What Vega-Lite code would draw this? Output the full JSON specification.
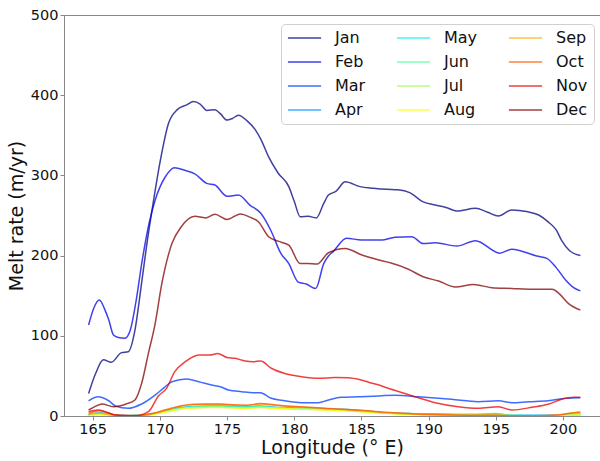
{
  "$schema": "https://vega.github.io/schema/vega-lite/v6.json",
  "width": 536,
  "height": 401,
  "autosize": {"type": "none"},
  "padding": {"left": 64, "top": 15, "right": 0, "bottom": 45},
  "background": "white",
  "config": {
    "font": "DejaVu Sans",
    "view": {"stroke": "#888888", "strokeWidth": 1},
    "axis": {"grid": false, "labelFont": "DejaVu Sans", "titleFont": "DejaVu Sans", "labelColor": "#111", "titleColor": "#111", "titleFontWeight": "normal", "labelFontSize": 14.5, "titleFontSize": 19, "domainColor": "#888888", "tickColor": "#888888", "tickSize": 4, "labelPadding": 2}
  },
  "datasets": {
    "melt": [
      {"m":"Jan","x":164.7,"y":28},{"m":"Jan","x":165.2,"y":52},{"m":"Jan","x":165.8,"y":70},{"m":"Jan","x":166.4,"y":67},{"m":"Jan","x":167.15,"y":79},{"m":"Jan","x":167.65,"y":80},{"m":"Jan","x":168.15,"y":107},{"m":"Jan","x":168.6,"y":160},{"m":"Jan","x":169.0,"y":210},{"m":"Jan","x":169.5,"y":265},{"m":"Jan","x":170.0,"y":315},{"m":"Jan","x":170.65,"y":365},{"m":"Jan","x":171.3,"y":382},{"m":"Jan","x":172.0,"y":388},{"m":"Jan","x":172.5,"y":392},{"m":"Jan","x":173.0,"y":389},{"m":"Jan","x":173.5,"y":381},{"m":"Jan","x":174.1,"y":382},{"m":"Jan","x":174.5,"y":377},{"m":"Jan","x":175.0,"y":369},{"m":"Jan","x":175.4,"y":371},{"m":"Jan","x":175.85,"y":375},{"m":"Jan","x":176.5,"y":368},{"m":"Jan","x":177.1,"y":357},{"m":"Jan","x":177.55,"y":344},{"m":"Jan","x":178.1,"y":323},{"m":"Jan","x":178.8,"y":303},{"m":"Jan","x":179.6,"y":286},{"m":"Jan","x":180.0,"y":268},{"m":"Jan","x":180.45,"y":248.5},{"m":"Jan","x":181.05,"y":249},{"m":"Jan","x":181.65,"y":247},{"m":"Jan","x":182.2,"y":265},{"m":"Jan","x":182.55,"y":275.5},{"m":"Jan","x":183.1,"y":280},{"m":"Jan","x":183.8,"y":292},{"m":"Jan","x":184.9,"y":286},{"m":"Jan","x":185.9,"y":284},{"m":"Jan","x":186.9,"y":282.6},{"m":"Jan","x":187.7,"y":282},{"m":"Jan","x":188.6,"y":278.5},{"m":"Jan","x":189.6,"y":267},{"m":"Jan","x":190.5,"y":263},{"m":"Jan","x":191.3,"y":260},{"m":"Jan","x":192.1,"y":255.6},{"m":"Jan","x":193.5,"y":259},{"m":"Jan","x":194.4,"y":254},{"m":"Jan","x":195.2,"y":249.4},{"m":"Jan","x":196.2,"y":257},{"m":"Jan","x":197.3,"y":255},{"m":"Jan","x":198.2,"y":250.6},{"m":"Jan","x":198.9,"y":242},{"m":"Jan","x":199.5,"y":232},{"m":"Jan","x":199.9,"y":219},{"m":"Jan","x":200.5,"y":206},{"m":"Jan","x":201.3,"y":200},

      {"m":"Feb","x":164.7,"y":113.5},{"m":"Feb","x":165.1,"y":135},{"m":"Feb","x":165.5,"y":144.6},{"m":"Feb","x":165.9,"y":133},{"m":"Feb","x":166.2,"y":120},{"m":"Feb","x":166.55,"y":101},{"m":"Feb","x":166.9,"y":98},{"m":"Feb","x":167.4,"y":97},{"m":"Feb","x":167.8,"y":107},{"m":"Feb","x":168.2,"y":140},{"m":"Feb","x":168.7,"y":195},{"m":"Feb","x":169.2,"y":240},{"m":"Feb","x":169.65,"y":269},{"m":"Feb","x":170.4,"y":298},{"m":"Feb","x":171.1,"y":309.6},{"m":"Feb","x":171.9,"y":306},{"m":"Feb","x":172.6,"y":302},{"m":"Feb","x":173.5,"y":290},{"m":"Feb","x":174.1,"y":288},{"m":"Feb","x":175.0,"y":274},{"m":"Feb","x":175.85,"y":275.5},{"m":"Feb","x":176.7,"y":263},{"m":"Feb","x":177.5,"y":253},{"m":"Feb","x":178.3,"y":230},{"m":"Feb","x":179.0,"y":203},{"m":"Feb","x":179.6,"y":190},{"m":"Feb","x":180.3,"y":167},{"m":"Feb","x":180.9,"y":164.6},{"m":"Feb","x":181.6,"y":159},{"m":"Feb","x":182.2,"y":190},{"m":"Feb","x":182.55,"y":199.5},{"m":"Feb","x":182.9,"y":205},{"m":"Feb","x":183.9,"y":221.6},{"m":"Feb","x":185.0,"y":219.5},{"m":"Feb","x":186.6,"y":219.5},{"m":"Feb","x":187.5,"y":223},{"m":"Feb","x":188.75,"y":223.6},{"m":"Feb","x":189.6,"y":215},{"m":"Feb","x":190.5,"y":216},{"m":"Feb","x":192.1,"y":212},{"m":"Feb","x":193.5,"y":218.6},{"m":"Feb","x":195.3,"y":203},{"m":"Feb","x":196.2,"y":208},{"m":"Feb","x":198.05,"y":199.5},{"m":"Feb","x":198.8,"y":196.6},{"m":"Feb","x":199.5,"y":185},{"m":"Feb","x":200.2,"y":169.6},{"m":"Feb","x":200.8,"y":160},{"m":"Feb","x":201.3,"y":156},

      {"m":"Mar","x":164.7,"y":19},{"m":"Mar","x":165.4,"y":24},{"m":"Mar","x":166.2,"y":19},{"m":"Mar","x":166.7,"y":12.5},{"m":"Mar","x":167.65,"y":9.6},{"m":"Mar","x":168.65,"y":15},{"m":"Mar","x":169.65,"y":26},{"m":"Mar","x":170.3,"y":35},{"m":"Mar","x":170.9,"y":42.8},{"m":"Mar","x":172.0,"y":46},{"m":"Mar","x":172.9,"y":42.8},{"m":"Mar","x":173.85,"y":38.6},{"m":"Mar","x":174.5,"y":36.5},{"m":"Mar","x":175.1,"y":32.4},{"m":"Mar","x":176.1,"y":30.3},{"m":"Mar","x":176.95,"y":29},{"m":"Mar","x":177.5,"y":29},{"m":"Mar","x":178.2,"y":22.8},{"m":"Mar","x":179.3,"y":19},{"m":"Mar","x":180.55,"y":16.6},{"m":"Mar","x":181.8,"y":16.6},{"m":"Mar","x":182.55,"y":20},{"m":"Mar","x":183.5,"y":23.3},{"m":"Mar","x":184.8,"y":24},{"m":"Mar","x":186.3,"y":25},{"m":"Mar","x":187.5,"y":26},{"m":"Mar","x":189.25,"y":24},{"m":"Mar","x":191.7,"y":20.8},{"m":"Mar","x":193.7,"y":17.8},{"m":"Mar","x":195.2,"y":19},{"m":"Mar","x":196.2,"y":16.6},{"m":"Mar","x":197.45,"y":17.8},{"m":"Mar","x":198.9,"y":19},{"m":"Mar","x":200.2,"y":22},{"m":"Mar","x":201.3,"y":22.8},

      {"m":"Apr","x":164.7,"y":2},{"m":"Apr","x":165.5,"y":4},{"m":"Apr","x":166.5,"y":1.5},{"m":"Apr","x":167.5,"y":0.5},{"m":"Apr","x":168.5,"y":1},{"m":"Apr","x":169.5,"y":3},{"m":"Apr","x":170.5,"y":7},{"m":"Apr","x":171.5,"y":10.5},{"m":"Apr","x":172.5,"y":12},{"m":"Apr","x":173.5,"y":12.5},{"m":"Apr","x":174.5,"y":12.5},{"m":"Apr","x":175.5,"y":12},{"m":"Apr","x":176.5,"y":11.5},{"m":"Apr","x":177.5,"y":12.5},{"m":"Apr","x":178.5,"y":11},{"m":"Apr","x":179.5,"y":10.5},{"m":"Apr","x":180.5,"y":10},{"m":"Apr","x":181.5,"y":9.5},{"m":"Apr","x":182.5,"y":9},{"m":"Apr","x":183.5,"y":8.5},{"m":"Apr","x":184.5,"y":7.5},{"m":"Apr","x":185.5,"y":6},{"m":"Apr","x":186.5,"y":4.5},{"m":"Apr","x":187.5,"y":3.5},{"m":"Apr","x":188.5,"y":3},{"m":"Apr","x":189.5,"y":2.5},{"m":"Apr","x":190.5,"y":2.5},{"m":"Apr","x":192.0,"y":2},{"m":"Apr","x":193.5,"y":1.8},{"m":"Apr","x":195.0,"y":2.5},{"m":"Apr","x":196.0,"y":1},{"m":"Apr","x":197.5,"y":0.8},{"m":"Apr","x":199.0,"y":0.8},{"m":"Apr","x":200.2,"y":1.5},{"m":"Apr","x":201.3,"y":2.5},

      {"m":"May","x":164.7,"y":1.5},{"m":"May","x":165.5,"y":3},{"m":"May","x":166.5,"y":1},{"m":"May","x":167.5,"y":0.3},{"m":"May","x":168.5,"y":0.8},{"m":"May","x":169.5,"y":2.5},{"m":"May","x":170.5,"y":6.5},{"m":"May","x":171.5,"y":10},{"m":"May","x":172.5,"y":11.5},{"m":"May","x":173.5,"y":12},{"m":"May","x":174.5,"y":12.5},{"m":"May","x":175.5,"y":12},{"m":"May","x":176.5,"y":11.5},{"m":"May","x":177.5,"y":12},{"m":"May","x":178.5,"y":10.5},{"m":"May","x":179.5,"y":10},{"m":"May","x":180.5,"y":9.5},{"m":"May","x":181.5,"y":9},{"m":"May","x":182.5,"y":8.5},{"m":"May","x":183.5,"y":8},{"m":"May","x":184.5,"y":7},{"m":"May","x":185.5,"y":5.5},{"m":"May","x":186.5,"y":4.5},{"m":"May","x":187.5,"y":3.5},{"m":"May","x":188.5,"y":3},{"m":"May","x":189.5,"y":2.5},{"m":"May","x":190.5,"y":2.2},{"m":"May","x":192.0,"y":2},{"m":"May","x":193.5,"y":2},{"m":"May","x":195.0,"y":3},{"m":"May","x":196.0,"y":1},{"m":"May","x":197.5,"y":0.5},{"m":"May","x":199.0,"y":0.5},{"m":"May","x":200.2,"y":1},{"m":"May","x":201.3,"y":2},

      {"m":"Jun","x":164.7,"y":1},{"m":"Jun","x":165.5,"y":2.5},{"m":"Jun","x":166.5,"y":0.8},{"m":"Jun","x":167.5,"y":0.3},{"m":"Jun","x":168.5,"y":0.5},{"m":"Jun","x":169.5,"y":2.5},{"m":"Jun","x":170.5,"y":6},{"m":"Jun","x":171.5,"y":9.5},{"m":"Jun","x":172.5,"y":11},{"m":"Jun","x":173.5,"y":11.5},{"m":"Jun","x":174.5,"y":11.5},{"m":"Jun","x":175.5,"y":11},{"m":"Jun","x":176.5,"y":10.5},{"m":"Jun","x":177.5,"y":11.5},{"m":"Jun","x":178.5,"y":10.5},{"m":"Jun","x":179.5,"y":9.5},{"m":"Jun","x":180.5,"y":9},{"m":"Jun","x":181.5,"y":8.5},{"m":"Jun","x":182.5,"y":8},{"m":"Jun","x":183.5,"y":7.5},{"m":"Jun","x":184.5,"y":6.5},{"m":"Jun","x":185.5,"y":5},{"m":"Jun","x":186.5,"y":4},{"m":"Jun","x":187.5,"y":3},{"m":"Jun","x":188.5,"y":2.5},{"m":"Jun","x":189.5,"y":2},{"m":"Jun","x":190.5,"y":1.8},{"m":"Jun","x":192.0,"y":1.5},{"m":"Jun","x":193.5,"y":1.3},{"m":"Jun","x":195.0,"y":2},{"m":"Jun","x":196.0,"y":0.8},{"m":"Jun","x":197.5,"y":0.4},{"m":"Jun","x":199.0,"y":0.4},{"m":"Jun","x":200.2,"y":0.8},{"m":"Jun","x":201.3,"y":1.5},

      {"m":"Jul","x":164.7,"y":0.8},{"m":"Jul","x":165.5,"y":2},{"m":"Jul","x":166.5,"y":0.6},{"m":"Jul","x":167.5,"y":0.2},{"m":"Jul","x":168.5,"y":0.4},{"m":"Jul","x":169.5,"y":2.2},{"m":"Jul","x":170.5,"y":5.5},{"m":"Jul","x":171.5,"y":9},{"m":"Jul","x":172.5,"y":10.5},{"m":"Jul","x":173.5,"y":11},{"m":"Jul","x":174.5,"y":11},{"m":"Jul","x":175.5,"y":10.5},{"m":"Jul","x":176.5,"y":10},{"m":"Jul","x":177.5,"y":11},{"m":"Jul","x":178.5,"y":10},{"m":"Jul","x":179.5,"y":9},{"m":"Jul","x":180.5,"y":8.5},{"m":"Jul","x":181.5,"y":8},{"m":"Jul","x":182.5,"y":7.5},{"m":"Jul","x":183.5,"y":7},{"m":"Jul","x":184.5,"y":6},{"m":"Jul","x":185.5,"y":4.8},{"m":"Jul","x":186.5,"y":3.8},{"m":"Jul","x":187.5,"y":2.8},{"m":"Jul","x":188.5,"y":2.3},{"m":"Jul","x":189.5,"y":1.8},{"m":"Jul","x":190.5,"y":1.5},{"m":"Jul","x":192.0,"y":1.2},{"m":"Jul","x":193.5,"y":1},{"m":"Jul","x":195.0,"y":1.2},{"m":"Jul","x":196.0,"y":0.5},{"m":"Jul","x":197.5,"y":0.3},{"m":"Jul","x":199.0,"y":0.3},{"m":"Jul","x":200.2,"y":0.6},{"m":"Jul","x":201.3,"y":1.2},

      {"m":"Aug","x":164.7,"y":0.5},{"m":"Aug","x":165.5,"y":1.5},{"m":"Aug","x":166.5,"y":0.5},{"m":"Aug","x":167.5,"y":0.2},{"m":"Aug","x":168.5,"y":0.3},{"m":"Aug","x":169.5,"y":2},{"m":"Aug","x":170.5,"y":5},{"m":"Aug","x":171.5,"y":8.5},{"m":"Aug","x":172.5,"y":10},{"m":"Aug","x":173.5,"y":10.5},{"m":"Aug","x":174.5,"y":10.5},{"m":"Aug","x":175.5,"y":10},{"m":"Aug","x":176.5,"y":9.5},{"m":"Aug","x":177.5,"y":10.5},{"m":"Aug","x":178.5,"y":9.8},{"m":"Aug","x":179.5,"y":9},{"m":"Aug","x":180.5,"y":8.5},{"m":"Aug","x":181.5,"y":8},{"m":"Aug","x":182.5,"y":7.5},{"m":"Aug","x":183.5,"y":7},{"m":"Aug","x":184.5,"y":6},{"m":"Aug","x":185.5,"y":4.8},{"m":"Aug","x":186.5,"y":3.8},{"m":"Aug","x":187.5,"y":2.8},{"m":"Aug","x":188.5,"y":2.2},{"m":"Aug","x":189.5,"y":1.7},{"m":"Aug","x":190.5,"y":1.4},{"m":"Aug","x":192.0,"y":1},{"m":"Aug","x":193.5,"y":0.8},{"m":"Aug","x":195.0,"y":0.8},{"m":"Aug","x":196.0,"y":0.4},{"m":"Aug","x":197.5,"y":0.2},{"m":"Aug","x":199.0,"y":0.3},{"m":"Aug","x":200.2,"y":0.8},{"m":"Aug","x":201.3,"y":1.5},

      {"m":"Sep","x":164.7,"y":2},{"m":"Sep","x":165.5,"y":3.3},{"m":"Sep","x":166.5,"y":1},{"m":"Sep","x":167.5,"y":0.3},{"m":"Sep","x":168.5,"y":0.5},{"m":"Sep","x":169.5,"y":3},{"m":"Sep","x":170.5,"y":7.5},{"m":"Sep","x":171.5,"y":12},{"m":"Sep","x":172.5,"y":14},{"m":"Sep","x":173.5,"y":14.5},{"m":"Sep","x":174.5,"y":14.5},{"m":"Sep","x":175.5,"y":13.5},{"m":"Sep","x":176.5,"y":13},{"m":"Sep","x":177.5,"y":15},{"m":"Sep","x":178.5,"y":13.5},{"m":"Sep","x":179.5,"y":12},{"m":"Sep","x":180.5,"y":11},{"m":"Sep","x":181.5,"y":10},{"m":"Sep","x":182.5,"y":9},{"m":"Sep","x":183.5,"y":8},{"m":"Sep","x":184.5,"y":7},{"m":"Sep","x":185.5,"y":6},{"m":"Sep","x":186.5,"y":4.5},{"m":"Sep","x":187.5,"y":3.5},{"m":"Sep","x":188.5,"y":2.5},{"m":"Sep","x":189.5,"y":2},{"m":"Sep","x":190.5,"y":1.5},{"m":"Sep","x":192.0,"y":1},{"m":"Sep","x":193.5,"y":0.8},{"m":"Sep","x":195.0,"y":0.8},{"m":"Sep","x":196.5,"y":0.3},{"m":"Sep","x":198.0,"y":0.3},{"m":"Sep","x":199.5,"y":1},{"m":"Sep","x":200.5,"y":3},{"m":"Sep","x":201.3,"y":4.5},

      {"m":"Oct","x":164.7,"y":3.3},{"m":"Oct","x":165.5,"y":6.6},{"m":"Oct","x":166.5,"y":2},{"m":"Oct","x":167.5,"y":0.5},{"m":"Oct","x":168.5,"y":0.6},{"m":"Oct","x":169.5,"y":3.2},{"m":"Oct","x":170.5,"y":8},{"m":"Oct","x":171.5,"y":12.5},{"m":"Oct","x":172.5,"y":14.5},{"m":"Oct","x":173.5,"y":15},{"m":"Oct","x":174.5,"y":15},{"m":"Oct","x":175.5,"y":14},{"m":"Oct","x":176.5,"y":13.5},{"m":"Oct","x":177.5,"y":15.5},{"m":"Oct","x":178.5,"y":14},{"m":"Oct","x":179.5,"y":12.5},{"m":"Oct","x":180.5,"y":11.5},{"m":"Oct","x":181.5,"y":10.5},{"m":"Oct","x":182.5,"y":9.5},{"m":"Oct","x":183.5,"y":8.5},{"m":"Oct","x":184.5,"y":7.5},{"m":"Oct","x":185.5,"y":6.5},{"m":"Oct","x":186.5,"y":5},{"m":"Oct","x":187.5,"y":4},{"m":"Oct","x":188.5,"y":3},{"m":"Oct","x":189.5,"y":2.3},{"m":"Oct","x":190.5,"y":1.8},{"m":"Oct","x":192.0,"y":1.2},{"m":"Oct","x":193.5,"y":1},{"m":"Oct","x":195.0,"y":0.8},{"m":"Oct","x":196.5,"y":0.3},{"m":"Oct","x":198.0,"y":0.3},{"m":"Oct","x":199.5,"y":1.2},{"m":"Oct","x":200.5,"y":3.5},{"m":"Oct","x":201.3,"y":5},

      {"m":"Nov","x":164.7,"y":5.4},{"m":"Nov","x":165.4,"y":7.5},{"m":"Nov","x":166.0,"y":5},{"m":"Nov","x":166.7,"y":1.2},{"m":"Nov","x":167.5,"y":0.5},{"m":"Nov","x":168.2,"y":0.4},{"m":"Nov","x":169.15,"y":5.4},{"m":"Nov","x":169.9,"y":25},{"m":"Nov","x":170.5,"y":34.5},{"m":"Nov","x":171.1,"y":55},{"m":"Nov","x":171.9,"y":67.7},{"m":"Nov","x":172.9,"y":76},{"m":"Nov","x":173.75,"y":76},{"m":"Nov","x":174.3,"y":78},{"m":"Nov","x":175.0,"y":73},{"m":"Nov","x":175.6,"y":72},{"m":"Nov","x":176.35,"y":68.6},{"m":"Nov","x":176.95,"y":67.7},{"m":"Nov","x":177.5,"y":68.6},{"m":"Nov","x":178.3,"y":59.5},{"m":"Nov","x":179.3,"y":53},{"m":"Nov","x":180.55,"y":49},{"m":"Nov","x":181.8,"y":47},{"m":"Nov","x":183.05,"y":48},{"m":"Nov","x":184.0,"y":47.8},{"m":"Nov","x":185.0,"y":45},{"m":"Nov","x":185.8,"y":40.8},{"m":"Nov","x":186.3,"y":38.6},{"m":"Nov","x":187.0,"y":34.5},{"m":"Nov","x":188.25,"y":28},{"m":"Nov","x":189.0,"y":24},{"m":"Nov","x":190.5,"y":16.6},{"m":"Nov","x":192.2,"y":11.6},{"m":"Nov","x":193.7,"y":9.6},{"m":"Nov","x":195.2,"y":11.6},{"m":"Nov","x":196.2,"y":7.5},{"m":"Nov","x":197.7,"y":10.8},{"m":"Nov","x":198.9,"y":14.6},{"m":"Nov","x":199.9,"y":20.8},{"m":"Nov","x":200.8,"y":23.3},{"m":"Nov","x":201.3,"y":23.3},

      {"m":"Dec","x":164.7,"y":7.5},{"m":"Dec","x":165.2,"y":12},{"m":"Dec","x":165.7,"y":15},{"m":"Dec","x":166.55,"y":11.6},{"m":"Dec","x":167.5,"y":15},{"m":"Dec","x":168.15,"y":20},{"m":"Dec","x":168.65,"y":40.8},{"m":"Dec","x":169.15,"y":78},{"m":"Dec","x":169.65,"y":115},{"m":"Dec","x":170.15,"y":165},{"m":"Dec","x":170.9,"y":215},{"m":"Dec","x":171.6,"y":236},{"m":"Dec","x":172.6,"y":249},{"m":"Dec","x":173.4,"y":247},{"m":"Dec","x":174.1,"y":251.5},{"m":"Dec","x":175.0,"y":245},{"m":"Dec","x":176.0,"y":252},{"m":"Dec","x":176.7,"y":248},{"m":"Dec","x":177.35,"y":242},{"m":"Dec","x":178.1,"y":223.6},{"m":"Dec","x":178.8,"y":218},{"m":"Dec","x":179.6,"y":213},{"m":"Dec","x":180.45,"y":190},{"m":"Dec","x":181.0,"y":190},{"m":"Dec","x":181.7,"y":189.5},{"m":"Dec","x":182.55,"y":203.6},{"m":"Dec","x":183.8,"y":209},{"m":"Dec","x":185.0,"y":201},{"m":"Dec","x":186.3,"y":194.5},{"m":"Dec","x":187.15,"y":191},{"m":"Dec","x":188.5,"y":183},{"m":"Dec","x":189.6,"y":173.7},{"m":"Dec","x":190.75,"y":168.3},{"m":"Dec","x":192.0,"y":161},{"m":"Dec","x":193.35,"y":164},{"m":"Dec","x":194.7,"y":160},{"m":"Dec","x":196.2,"y":159},{"m":"Dec","x":197.7,"y":158},{"m":"Dec","x":199.2,"y":158},{"m":"Dec","x":199.7,"y":153},{"m":"Dec","x":200.4,"y":140.5},{"m":"Dec","x":201.3,"y":132}
    ]
  },
  "data": {"name": "melt"},
  "mark": {"type": "line", "interpolate": "monotone", "strokeWidth": 1.5, "strokeOpacity": 0.75, "clip": true},
  "encoding": {
    "x": {"field": "x", "type": "quantitative", "scale": {"domain": [162.87, 202.76], "nice": false, "zero": false},
          "axis": {"values": [165,170,175,180,185,190,195,200], "title": "Longitude (° E)", "titlePadding": 3}},
    "y": {"field": "y", "type": "quantitative", "scale": {"domain": [0, 500], "nice": false},
          "axis": {"values": [0,100,200,300,400,500], "title": "Melt rate (m/yr)", "titlePadding": 4}},
    "color": {"field": "m", "type": "nominal",
      "scale": {"domain": ["Jan","Feb","Mar","Apr","May","Jun","Jul","Aug","Sep","Oct","Nov","Dec"],
                "range": ["#000080","#0000e9","#003aff","#0097ff","#0bf3ec","#56ffa1","#a1ff56","#fcff0b","#ffad00","#ff5700","#e90000","#800000"]},
      "legend": {"title": null, "orient": "none", "legendX": 217, "legendY": 9, "columns": 3, "symbolType": "stroke", "symbolSize": 1100, "symbolStrokeWidth": 1.5, "symbolOpacity": 0.75, "labelFontSize": 16, "labelFont": "DejaVu Sans", "labelColor": "#111", "labelOffset": 13, "columnPadding": 30, "rowPadding": 8, "clipHeight": 16, "padding": 6, "fillColor": "white", "strokeColor": "#d0d0d0", "cornerRadius": 4}
    },
    "detail": {"field": "m"}
  }
}
